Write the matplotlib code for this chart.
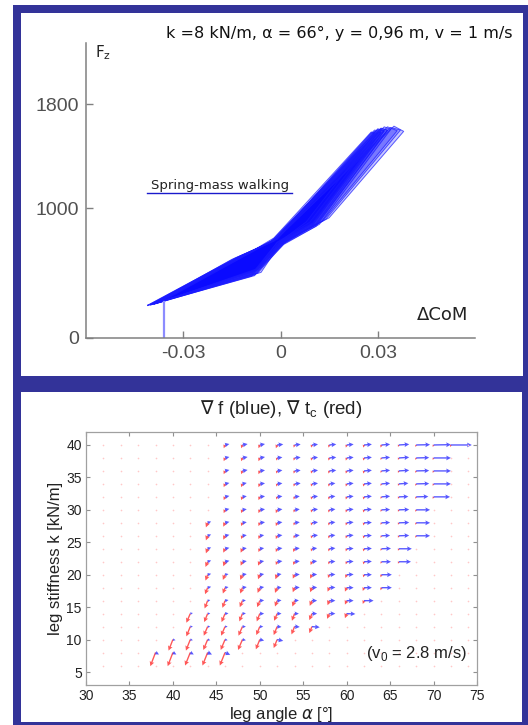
import matplotlib
matplotlib.use('Agg')
import matplotlib.pyplot as plt
from matplotlib.patches import Rectangle
from matplotlib.lines import Line2D

plt.rcParams['mathtext.fontset'] = 'dejavusans'

# ---------------- data: top panel (spring-mass walking loops) ----------------
loops_x = [
    [-0.041, -0.014, -0.002, 0.029, 0.031, 0.010, 0.000, -0.008, -0.041],
    [-0.040, -0.012, -0.001, 0.030, 0.032, 0.011, 0.001, -0.007, -0.040],
    [-0.039, -0.010, -0.002, 0.028, 0.030, 0.009, -0.001, -0.008, -0.039],
    [-0.040, -0.015, -0.003, 0.031, 0.033, 0.011, 0.000, -0.009, -0.040],
    [-0.038, -0.009, -0.001, 0.028, 0.029, 0.008, 0.000, -0.007, -0.038],
    [-0.041, -0.013, -0.002, 0.032, 0.034, 0.012, 0.001, -0.008, -0.041],
    [-0.039, -0.011, -0.002, 0.030, 0.032, 0.010, 0.000, -0.006, -0.039],
    [-0.040, -0.013, -0.003, 0.031, 0.033, 0.011, 0.000, -0.009, -0.040],
    [-0.039, -0.012, -0.002, 0.029, 0.031, 0.010, -0.001, -0.008, -0.039],
    [-0.038, -0.011, -0.001, 0.034, 0.037, 0.014, 0.001, -0.007, -0.038],
    [-0.037, -0.010, -0.001, 0.035, 0.038, 0.015, 0.002, -0.007, -0.037],
    [-0.040, -0.012, -0.002, 0.033, 0.036, 0.013, 0.001, -0.008, -0.040],
]
loops_y = [
    [250, 615, 745, 1600, 1590, 870, 720, 480, 250],
    [258, 635, 760, 1610, 1595, 880, 728, 500, 258],
    [262, 650, 770, 1585, 1575, 890, 738, 520, 262],
    [255, 605, 735, 1615, 1600, 860, 712, 475, 255],
    [268, 660, 775, 1580, 1572, 895, 745, 535, 268],
    [252, 625, 750, 1625, 1605, 875, 720, 485, 252],
    [260, 640, 755, 1605, 1592, 885, 728, 505, 260],
    [256, 620, 742, 1612, 1598, 870, 722, 490, 256],
    [265, 630, 748, 1590, 1580, 885, 735, 510, 265],
    [270, 640, 765, 1620, 1600, 915, 738, 525, 270],
    [275, 645, 768, 1630, 1590, 925, 750, 530, 275],
    [260, 632, 752, 1625, 1595, 900, 730, 500, 260],
]
marker_x = -0.036
marker_y = 277
top_xticks = [-0.03, 0, 0.03]
top_xlabels = ['-0.03', '0', '0.03']
top_yticks = [0, 1000, 1800]
top_ylabels = ['0', '1000', '1800']
top_title = 'k =8 kN/m, \u03b1 = 66\u00b0, y = 0,96 m, v = 1 m/s'

# ---------------- data: bottom panel (gradient field) ----------------
rows_k = [40, 38, 36, 34, 32, 30, 28, 26, 24, 22, 20, 18, 16, 14, 12, 10, 8]
row_start = [46, 46, 46, 46, 46, 46, 44, 44, 44, 44, 44, 44, 44, 42, 42, 40, 38]

blue_u = [
    [0.5, 0.6, 0.6, 0.7, 0.7, 0.7, 0.8, 0.8, 0.9, 1.0, 1.2, 1.6, 2.0, 2.4],
    [0.5, 0.6, 0.6, 0.6, 0.7, 0.7, 0.8, 0.8, 0.9, 1.0, 1.2, 1.5, 2.0],
    [0.5, 0.6, 0.6, 0.6, 0.7, 0.7, 0.8, 0.8, 0.9, 1.0, 1.2, 1.5, 2.0],
    [0.5, 0.5, 0.6, 0.6, 0.7, 0.7, 0.7, 0.8, 0.9, 1.0, 1.1, 1.5, 2.0],
    [0.5, 0.5, 0.6, 0.6, 0.6, 0.7, 0.7, 0.8, 0.9, 1.0, 1.1, 1.4, 1.9],
    [0.5, 0.5, 0.6, 0.6, 0.6, 0.7, 0.7, 0.8, 0.9, 1.0, 1.2, 1.6],
    [0.4, 0.5, 0.5, 0.6, 0.6, 0.6, 0.7, 0.7, 0.8, 0.9, 1.0, 1.2, 1.6],
    [0.4, 0.5, 0.5, 0.5, 0.6, 0.6, 0.7, 0.7, 0.8, 0.9, 1.0, 1.2, 1.6],
    [0.4, 0.5, 0.5, 0.5, 0.6, 0.6, 0.6, 0.7, 0.8, 0.9, 1.1, 1.5],
    [0.4, 0.5, 0.5, 0.5, 0.6, 0.6, 0.6, 0.7, 0.8, 0.9, 1.1, 1.4],
    [0.4, 0.4, 0.5, 0.5, 0.5, 0.6, 0.6, 0.7, 0.8, 0.9, 1.2],
    [0.4, 0.4, 0.5, 0.5, 0.5, 0.6, 0.6, 0.7, 0.8, 0.9, 1.2],
    [0.3, 0.4, 0.4, 0.5, 0.5, 0.5, 0.6, 0.7, 0.8, 1.1],
    [0.3, 0.3, 0.4, 0.4, 0.5, 0.5, 0.5, 0.6, 0.7, 1.0],
    [0.3, 0.3, 0.3, 0.4, 0.4, 0.5, 0.6, 0.9],
    [0.3, 0.3, 0.3, 0.3, 0.4, 0.5, 0.7],
    [0.4, 0.4, 0.4, 0.5, 0.6],
]
blue_v = [
    [0.15, 0.15, 0.15, 0.1, 0.1, 0.1, 0.1, 0.1, 0.1, 0.1, 0.1, 0.05, 0.05, 0.0],
    [0.15, 0.15, 0.15, 0.1, 0.1, 0.1, 0.1, 0.1, 0.1, 0.1, 0.1, 0.05, 0.0],
    [0.15, 0.15, 0.1, 0.1, 0.1, 0.1, 0.1, 0.1, 0.1, 0.1, 0.1, 0.05, 0.0],
    [0.15, 0.15, 0.1, 0.1, 0.1, 0.1, 0.1, 0.1, 0.1, 0.1, 0.1, 0.05, 0.0],
    [0.15, 0.1, 0.1, 0.1, 0.1, 0.1, 0.1, 0.1, 0.1, 0.1, 0.05, 0.05, 0.0],
    [0.15, 0.1, 0.1, 0.1, 0.1, 0.1, 0.1, 0.1, 0.1, 0.05, 0.05, 0.0],
    [0.2, 0.15, 0.1, 0.1, 0.1, 0.1, 0.1, 0.1, 0.1, 0.05, 0.05, 0.05, 0.0],
    [0.2, 0.15, 0.1, 0.1, 0.1, 0.1, 0.1, 0.1, 0.1, 0.05, 0.05, 0.05, 0.0],
    [0.2, 0.15, 0.1, 0.1, 0.1, 0.1, 0.1, 0.1, 0.05, 0.05, 0.05, 0.0],
    [0.2, 0.15, 0.1, 0.1, 0.1, 0.1, 0.1, 0.05, 0.05, 0.05, 0.0, 0.0],
    [0.15, 0.1, 0.1, 0.1, 0.1, 0.05, 0.05, 0.05, 0.05, 0.0, 0.0],
    [0.15, 0.1, 0.1, 0.1, 0.05, 0.05, 0.05, 0.05, 0.0, 0.0, 0.0],
    [0.1, 0.1, 0.05, 0.05, 0.05, 0.05, 0.0, 0.0, 0.0, 0.0],
    [0.1, 0.05, 0.05, 0.05, 0.0, 0.0, 0.0, 0.0, 0.0, -0.05],
    [0.0, 0.0, 0.0, 0.0, 0.0, -0.05, -0.05, -0.1],
    [-0.1, -0.1, -0.1, -0.1, -0.1, -0.15, -0.2],
    [-0.3, -0.3, -0.3, -0.3, -0.35],
]
red_u = [
    [-0.15, -0.15, -0.15, -0.15, -0.1, -0.1, -0.1, -0.1, -0.1, -0.1, -0.1, -0.1, -0.1, -0.1],
    [-0.15, -0.15, -0.15, -0.1, -0.1, -0.1, -0.1, -0.1, -0.1, -0.1, -0.1, -0.1, -0.1],
    [-0.15, -0.15, -0.15, -0.1, -0.1, -0.1, -0.1, -0.1, -0.1, -0.1, -0.1, -0.1, -0.1],
    [-0.15, -0.15, -0.15, -0.1, -0.1, -0.1, -0.1, -0.1, -0.1, -0.1, -0.1, -0.1, -0.1],
    [-0.15, -0.15, -0.15, -0.1, -0.1, -0.1, -0.1, -0.1, -0.1, -0.1, -0.1, -0.1, -0.1],
    [-0.15, -0.15, -0.15, -0.15, -0.1, -0.1, -0.1, -0.1, -0.1, -0.1, -0.1, -0.1],
    [-0.2, -0.2, -0.15, -0.15, -0.15, -0.1, -0.1, -0.1, -0.1, -0.1, -0.1, -0.1, -0.1],
    [-0.2, -0.2, -0.15, -0.15, -0.15, -0.1, -0.1, -0.1, -0.1, -0.1, -0.1, -0.1, -0.1],
    [-0.2, -0.2, -0.2, -0.15, -0.15, -0.15, -0.1, -0.1, -0.1, -0.1, -0.1, -0.1],
    [-0.25, -0.2, -0.2, -0.2, -0.15, -0.15, -0.15, -0.1, -0.1, -0.1, -0.1, -0.1],
    [-0.25, -0.25, -0.25, -0.2, -0.2, -0.2, -0.2, -0.15, -0.15, -0.1, -0.1],
    [-0.3, -0.25, -0.25, -0.25, -0.25, -0.2, -0.2, -0.2, -0.2, -0.15, -0.1],
    [-0.35, -0.3, -0.3, -0.3, -0.25, -0.25, -0.25, -0.2, -0.2, -0.15],
    [-0.45, -0.4, -0.4, -0.35, -0.35, -0.35, -0.3, -0.3, -0.25, -0.2],
    [-0.45, -0.45, -0.45, -0.45, -0.4, -0.4, -0.35, -0.3],
    [-0.5, -0.5, -0.5, -0.5, -0.5, -0.45, -0.4],
    [-0.6, -0.6, -0.6, -0.6, -0.6],
]
red_v = [
    [-0.5, -0.5, -0.5, -0.5, -0.4, -0.4, -0.4, -0.4, -0.4, -0.4, -0.3, -0.3, -0.3, -0.3],
    [-0.5, -0.5, -0.5, -0.4, -0.4, -0.4, -0.4, -0.4, -0.4, -0.3, -0.3, -0.3, -0.3],
    [-0.5, -0.5, -0.5, -0.4, -0.4, -0.4, -0.4, -0.4, -0.4, -0.3, -0.3, -0.3, -0.3],
    [-0.5, -0.5, -0.5, -0.4, -0.4, -0.4, -0.4, -0.4, -0.4, -0.3, -0.3, -0.3, -0.3],
    [-0.5, -0.5, -0.5, -0.4, -0.4, -0.4, -0.4, -0.4, -0.4, -0.3, -0.3, -0.3, -0.3],
    [-0.5, -0.5, -0.5, -0.5, -0.4, -0.4, -0.4, -0.4, -0.4, -0.3, -0.3, -0.3],
    [-0.7, -0.6, -0.5, -0.5, -0.5, -0.4, -0.4, -0.4, -0.4, -0.4, -0.3, -0.3, -0.3],
    [-0.7, -0.6, -0.5, -0.5, -0.5, -0.4, -0.4, -0.4, -0.4, -0.4, -0.3, -0.3, -0.3],
    [-0.7, -0.6, -0.6, -0.5, -0.5, -0.5, -0.4, -0.4, -0.4, -0.4, -0.3, -0.3],
    [-0.8, -0.7, -0.6, -0.6, -0.5, -0.5, -0.5, -0.4, -0.4, -0.4, -0.3, -0.3],
    [-0.9, -0.8, -0.8, -0.7, -0.7, -0.6, -0.6, -0.5, -0.5, -0.4, -0.4],
    [-1.0, -0.9, -0.9, -0.8, -0.8, -0.7, -0.7, -0.6, -0.6, -0.5, -0.4],
    [-1.2, -1.1, -1.0, -1.0, -0.9, -0.9, -0.8, -0.7, -0.6, -0.5],
    [-1.4, -1.3, -1.3, -1.2, -1.2, -1.1, -1.1, -1.0, -0.8, -0.7],
    [-1.5, -1.4, -1.4, -1.4, -1.3, -1.3, -1.2, -1.0],
    [-1.7, -1.7, -1.6, -1.6, -1.6, -1.5, -1.3],
    [-2.1, -2.1, -2.0, -2.0, -2.0],
]
grid_alpha = list(range(32, 76, 2))
grid_k = list(range(6, 42, 2))
bottom_xticks = [30, 35, 40, 45, 50, 55, 60, 65, 70, 75]
bottom_yticks = [5, 10, 15, 20, 25, 30, 35, 40]

# ---------------- figure ----------------
W, H = 528, 725
fig = plt.figure(figsize=(W / 100, H / 100), dpi=100)
fig.patch.set_facecolor('white')
FRAME = '#333399'


def px_rect(x0, y0, x1, y1, color, z):
    fig.patches.append(Rectangle((x0 / W, 1 - y1 / H), (x1 - x0) / W, (y1 - y0) / H,
                                 transform=fig.transFigure, facecolor=color,
                                 edgecolor='none', zorder=z))


px_rect(13, 5, 528, 725, FRAME, -20)
px_rect(21, 13, 523, 376, 'white', -19)
px_rect(21, 392, 522, 722, 'white', -19)

# ---------------- top panel ----------------
ax1 = fig.add_axes([86 / W, 1 - 338 / H, (475 - 86) / W, (338 - 43) / H])
ax1.patch.set_visible(False)
for lx, ly in zip(loops_x, loops_y):
    ax1.fill(lx, ly, color='#0000ff', alpha=0.22, lw=0)
    ax1.plot(lx, ly, color='#1a1aff', lw=0.7, alpha=0.7, solid_joinstyle='round')
ax1.plot([marker_x, marker_x], [0, marker_y], color='#8c8cff', lw=1.6)
ax1.set_xlim(-0.06, 0.06)
ax1.set_ylim(0, 2270)
for s in ['top', 'right']:
    ax1.spines[s].set_visible(False)
for s in ['left', 'bottom']:
    ax1.spines[s].set_color('#808080')
    ax1.spines[s].set_linewidth(1.1)
ax1.set_xticks(top_xticks)
ax1.set_xticklabels(top_xlabels)
ax1.set_yticks(top_yticks)
ax1.set_yticklabels(top_ylabels)
ax1.tick_params(direction='in', length=5, width=1, color='#808080',
                labelsize=14, labelcolor='#505050', pad=5)
for lab in ax1.get_xticklabels() + ax1.get_yticklabels():
    lab.set_family('Liberation Sans')

GF = 'DejaVu Sans'
fig.text(512 / W, 1 - 33 / H, top_title, ha='right', va='center', fontsize=11.5,
         family=GF, color='#111111')
fig.text(95 / W, 1 - 53 / H, r'F$_\mathregular{z}$', ha='left', va='center', fontsize=11,
         family=GF, color='#222222')
fig.text(417 / W, 1 - 315 / H, '\u0394CoM', ha='left', va='center', fontsize=13,
         family=GF, color='#222222')
fig.text(151 / W, 1 - 185 / H, 'Spring-mass walking', ha='left', va='center', fontsize=9.5,
         family=GF, color='#222222')
fig.add_artist(Line2D([147 / W, 292 / W], [1 - 193 / H, 1 - 193 / H], color='#1a1acc',
                      lw=1.0, transform=fig.transFigure))

# ---------------- bottom panel ----------------
ax2 = fig.add_axes([86 / W, 1 - 685 / H, (477 - 86) / W, (685 - 432) / H])
ax2.set_xlim(30, 75)
ax2.set_ylim(3, 42)

# faint dots at empty grid nodes
filled = set()
for k, a0, bu in zip(rows_k, row_start, blue_u):
    for i in range(len(bu)):
        filled.add((a0 + 2 * i, k))
dx, dy = [], []
for k in grid_k:
    for a in grid_alpha:
        if (a, k) not in filled:
            dx.append(a)
            dy.append(k)
ax2.plot(dx, dy, ls='none', marker='o', ms=1.2, color='#ffc8c8', mew=0)

X, Y, BU, BV, RU, RV = [], [], [], [], [], []
for k, a0, bu, bv, ru, rv in zip(rows_k, row_start, blue_u, blue_v, red_u, red_v):
    for i in range(len(bu)):
        X.append(a0 + 2 * i)
        Y.append(k)
        BU.append(bu[i]); BV.append(bv[i]); RU.append(ru[i]); RV.append(rv[i])

qkw = dict(angles='xy', scale_units='xy', scale=1, width=0.0035, headwidth=3.5,
           headlength=3.5, headaxislength=3.0, alpha=0.75)
ax2.quiver(X, Y, RU, RV, color='#ff2020', **qkw)
ax2.quiver(X, Y, BU, BV, color='#2020ff', **qkw)

ax2.set_xticks(bottom_xticks)
ax2.set_yticks(bottom_yticks)
ax2.tick_params(direction='in', length=3, width=0.8, color='#909090', top=True, right=True,
                labelsize=10, labelcolor='#222222', pad=3)
for lab in ax2.get_xticklabels() + ax2.get_yticklabels():
    lab.set_family('Liberation Sans')
for s in ax2.spines.values():
    s.set_color('#a0a0a0')
    s.set_linewidth(0.9)

LF = 'Liberation Sans'
ax2.set_xlabel('leg angle $\\alpha$ [\u00b0]', fontsize=12, family=LF, color='#222222', labelpad=1)
ax2.set_ylabel('leg stiffness k [kN/m]', fontsize=12, family=LF, color='#222222', labelpad=2)
ax2.set_title('$\\nabla$ f (blue), $\\nabla$ t$_\\mathregular{c}$ (red)', fontsize=13.5,
              family=LF, color='#222222', pad=13)
ax2.text(62.2, 7.9, '(v$_\\mathregular{0}$ = 2.8 m/s)', fontsize=12, family=LF, color='#222222',
         ha='left', va='center')

fig.savefig('out.png', dpi=100)
